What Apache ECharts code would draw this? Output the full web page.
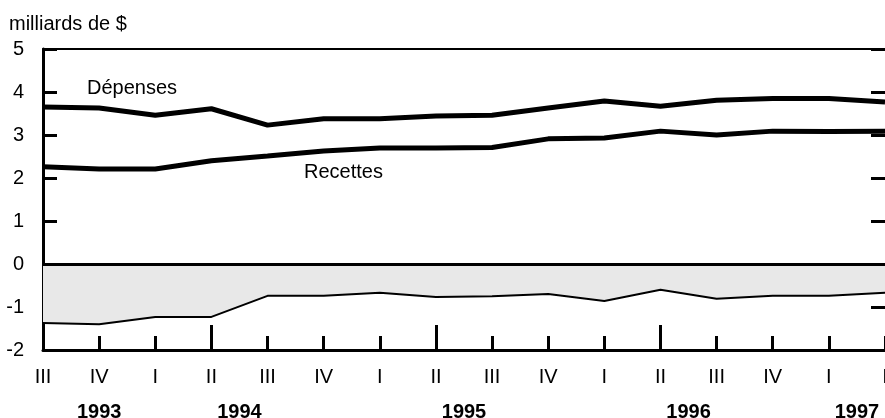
<!DOCTYPE html>
<html>
<head>
<meta charset="utf-8">
<script src="https://cdn.jsdelivr.net/npm/echarts@6/dist/echarts.min.js"></script>
<style>
  html, body { margin: 0; padding: 0; background: #fff; }
  #chart { width: 885px; height: 418px; }
</style>
</head>
<body>
<div id="chart"></div>
<script>
// quarters, 1993 III .. 1997 I
const quarters = ['III', 'IV', 'I', 'II', 'III', 'IV', 'I', 'II', 'III', 'IV', 'I', 'II', 'III', 'IV', 'I', 'I'];
const depenses = [3.65, 3.63, 3.46, 3.61, 3.23, 3.38, 3.38, 3.44, 3.46, 3.63, 3.79, 3.67, 3.81, 3.85, 3.85, 3.77];
const recettes = [2.26, 2.21, 2.21, 2.40, 2.51, 2.63, 2.70, 2.70, 2.71, 2.91, 2.93, 3.09, 3.00, 3.09, 3.08, 3.09];
const solde = [-1.37, -1.40, -1.23, -1.23, -0.74, -0.74, -0.67, -0.77, -0.75, -0.70, -0.86, -0.60, -0.81, -0.74, -0.74, -0.67];
const yearPos = [1, 3.5, 7.5, 11.5, 14.5];
const yearLabels = ['1993', '1994', '1995', '1996', '1997'];
const yearTicks = [3, 7, 11];

const font = '"Liberation Sans", Arial, sans-serif';

const chart = echarts.init(document.getElementById('chart'));

const option = {
    animation: false,
    textStyle: { fontFamily: font },
    grid: { left: 43, right: 0, top: 49, bottom: 68, containLabel: false, outerBoundsMode: 'none' },
    xAxis: [
        {
            type: 'category',
            data: quarters,
            boundaryGap: false,
            position: 'bottom',
            axisLine: { onZero: false, lineStyle: { color: '#000', width: 3 } },
            axisTick: { inside: true, length: 14, lineStyle: { color: '#000', width: 3 } },
            axisLabel: { color: '#000', fontSize: 20, margin: 17, fontFamily: font }
        },
        {
            type: 'value', min: 0, max: 15, position: 'bottom',
            axisLine: { show: false, onZero: false },
            axisTick: { show: true, inside: true, length: 25, customValues: yearTicks,
                lineStyle: { color: '#000', width: 3 } },
            axisLabel: { show: false },
            splitLine: { show: false }
        },
        {
            type: 'value', min: 0, max: 15, position: 'bottom',
            axisLine: { show: false, onZero: false },
            axisTick: { show: false },
            axisLabel: {
                customValues: yearPos,
                formatter: function (v) { return yearLabels[yearPos.indexOf(v)] || ''; },
                color: '#000', fontSize: 20, fontWeight: 'bold', margin: 52, fontFamily: font
            },
            splitLine: { show: false }
        },
        {
            type: 'value', min: 0, max: 15, position: 'top',
            axisLine: { show: true, onZero: false, lineStyle: { color: '#000', width: 2 } },
            axisTick: { show: false },
            axisLabel: { show: false },
            splitLine: { show: false }
        }
    ],
    yAxis: [
        {
            type: 'value', min: -2, max: 5, interval: 1, position: 'left',
            axisLine: { show: true, onZero: false, lineStyle: { color: '#000', width: 3 } },
            axisTick: { show: true, inside: true, length: 14, lineStyle: { color: '#000', width: 3 } },
            axisLabel: { color: '#000', fontSize: 20, margin: 19, fontFamily: font },
            splitLine: { show: false }
        },
        {
            type: 'value', min: -2, max: 5, interval: 1, position: 'right',
            axisLine: { show: true, onZero: false, lineStyle: { color: '#000', width: 3, opacity: 0 } },
            axisTick: { show: true, inside: true, length: 14, lineStyle: { color: '#000', width: 3, opacity: 1 } },
            axisLabel: { show: false },
            splitLine: { show: false }
        }
    ],
    series: [
        {
            name: 'Solde', type: 'line', data: solde, symbol: 'none',
            lineStyle: { color: '#000', width: 2 },
            areaStyle: { color: '#e8e8e8', opacity: 1 },
            markLine: {
                silent: true, symbol: 'none', label: { show: false },
                lineStyle: { color: '#000', width: 3, type: 'solid' },
                data: [{ yAxis: 0 }]
            }
        },
        {
            name: 'Recettes', type: 'line', data: recettes, symbol: 'none',
            lineStyle: { color: '#000', width: 5 }
        },
        {
            name: 'Dépenses', type: 'line', data: depenses, symbol: 'none',
            lineStyle: { color: '#000', width: 5 }
        }
    ],
    graphic: [
        { type: 'text', left: 9, top: 14, style: { text: 'milliards de $', fill: '#000', fontSize: 20, fontFamily: font } },
        { type: 'text', left: 87, top: 78, style: { text: 'Dépenses', fill: '#000', fontSize: 20, fontFamily: font } },
        { type: 'text', left: 304, top: 162, style: { text: 'Recettes', fill: '#000', fontSize: 20, fontFamily: font } },
        { type: 'text', left: 317, top: 270, style: { text: 'Solde', fill: '#000', fontSize: 20, fontFamily: font } }
    ]
};

chart.setOption(option);
</script>
</body>
</html>
